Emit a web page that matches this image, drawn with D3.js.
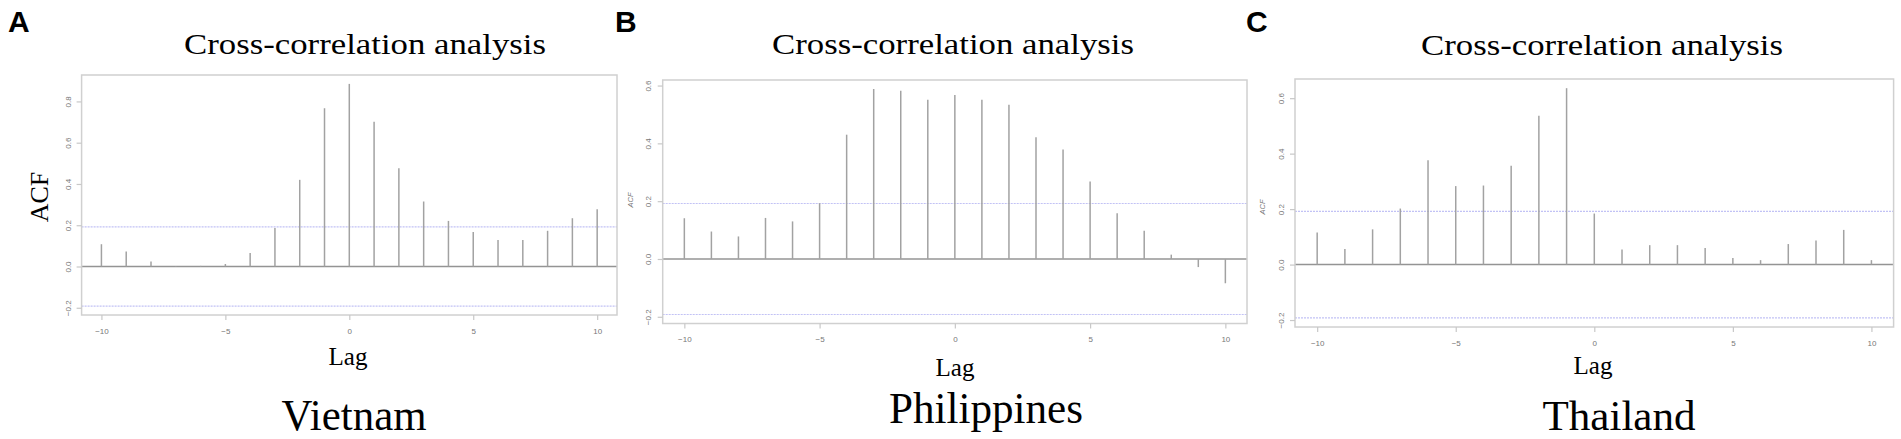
<!DOCTYPE html>
<html>
<head>
<meta charset="utf-8">
<script src="https://cdn.jsdelivr.net/npm/d3@7"></script>
<style>
  html, body { margin: 0; padding: 0; background: #fff; }
  svg { display: block; }
</style>
</head>
<body>
<svg id="chart" width="1901" height="439"></svg>
<script>
// ---------------- data ----------------
const lags = [-10, -9, -8, -7, -6, -5, -4, -3, -2, -1, 0, 1, 2, 3, 4, 5, 6, 7, 8, 9, 10];
const vietnamACF = [0.108, 0.073, 0.024, 0.002, 0.003, 0.012, 0.065, 0.186, 0.420, 0.767, 0.885,
                    0.702, 0.476, 0.315, 0.221, 0.167, 0.129, 0.129, 0.173, 0.234, 0.278];
const philippinesACF = [0.141, 0.095, 0.078, 0.142, 0.130, 0.193, 0.430, 0.588, 0.582, 0.551, 0.567,
                        0.551, 0.534, 0.421, 0.379, 0.268, 0.158, 0.098, 0.015, -0.028, -0.084];
const thailandACF = [0.116, 0.056, 0.127, 0.202, 0.376, 0.283, 0.285, 0.356, 0.537, 0.636, 0.184,
                     0.054, 0.070, 0.070, 0.060, 0.024, 0.016, 0.074, 0.087, 0.125, 0.016];
const countries = ["Vietnam", "Philippines", "Thailand"];
const panelLetters = ["A", "B", "C"];
const xTickValues = [-10, -5, 0, 5, 10];
const yTicksVietnam = [-0.2, 0.0, 0.2, 0.4, 0.6, 0.8];
const yTicksPhilippines = [-0.2, 0.0, 0.2, 0.4, 0.6];
const yTicksThailand = [-0.2, 0.0, 0.2, 0.4, 0.6];
const ciLevel = 0.192;
const titleText = "Cross-correlation analysis";
const xLabelText = "Lag";
const yLabelText = "ACF";

// ---------------- layout (positions only) ----------------
const panels = [
  { series: vietnamACF, yTicks: yTicksVietnam,
    box: [81.6, 617, 75, 315], letterX: 8,
    titleX: 365, titleY: 54, lagX: 348, lagY: 365, nameX: 354, nameY: 430, nameSize: 44, nameW: 145,
    yTickLabelX: 68, xTickLabelDY: 16, bigACF: true, acfX: 48, acfY: 197 },
  { series: philippinesACF, yTicks: yTicksPhilippines,
    box: [662.7, 1247, 80, 323.5], letterX: 615,
    titleX: 953, titleY: 53.5, lagX: 955, lagY: 375.5, nameX: 986, nameY: 422.7, nameSize: 44, nameW: 194,
    yTickLabelX: 648.3, xTickLabelDY: 15.5, bigACF: false, acfX: 630, acfY: 200 },
  { series: thailandACF, yTicks: yTicksThailand,
    box: [1295, 1893.6, 79, 327], letterX: 1246,
    titleX: 1602, titleY: 54.5, lagX: 1593, lagY: 374, nameX: 1619, nameY: 430, nameSize: 42, nameW: 153,
    yTickLabelX: 1281.7, xTickLabelDY: 15.7, bigACF: false, acfX: 1262, acfY: 207 }
];

const svg = d3.select("#chart");
svg.append("rect").attr("width", 1901).attr("height", 439).attr("fill", "#fff");

const serif = "'Liberation Serif', 'Times New Roman', serif";
const sans = "'Liberation Sans', Arial, sans-serif";

panels.forEach((p, i) => {
  const [x0, x1, y0, y1] = p.box;
  const g = svg.append("g");

  // R-style axis ranges: pad 4% beyond data / confidence limits
  const xr = d3.extent(lags);
  const xpad = (xr[1] - xr[0]) * 0.04;
  const x = d3.scaleLinear().domain([xr[0] - xpad, xr[1] + xpad]).range([x0, x1]);
  const lo = Math.min(-ciLevel, d3.min(p.series));
  const hi = Math.max(ciLevel, d3.max(p.series));
  const ypad = (hi - lo) * 0.04;
  const y = d3.scaleLinear().domain([lo - ypad, hi + ypad]).range([y1, y0]);

  // panel letter
  svg.append("text")
    .attr("x", p.letterX).attr("y", 32)
    .attr("font-family", sans).attr("font-weight", "bold").attr("font-size", 30)
    .attr("fill", "#000").text(panelLetters[i]);

  // title
  svg.append("text")
    .attr("x", p.titleX).attr("y", p.titleY)
    .attr("text-anchor", "middle")
    .attr("font-family", serif).attr("font-size", 29)
    .attr("textLength", 362).attr("lengthAdjust", "spacingAndGlyphs")
    .attr("fill", "#000").text(titleText);

  // CI lines
  [ciLevel, -ciLevel].forEach(c => {
    g.append("line")
      .attr("x1", x0).attr("x2", x1)
      .attr("y1", y(c)).attr("y2", y(c))
      .attr("stroke", "#a9a9f2").attr("stroke-width", 1.2)
      .attr("stroke-dasharray", "2,1").attr("opacity", 0.7);
  });

  // zero line
  g.append("line")
    .attr("x1", x0).attr("x2", x1)
    .attr("y1", y(0)).attr("y2", y(0))
    .attr("stroke", "#949494").attr("stroke-width", 1.6);

  // bars (spikes)
  g.selectAll("line.spike").data(lags.map((l, k) => ({ lag: l, v: p.series[k] })))
    .enter().append("line").attr("class", "spike")
    .attr("x1", d => x(d.lag)).attr("x2", d => x(d.lag))
    .attr("y1", y(0)).attr("y2", d => y(d.v))
    .attr("stroke", "#a2a2a2").attr("stroke-width", 1.5);

  // box
  g.append("rect")
    .attr("x", x0).attr("y", y0).attr("width", x1 - x0).attr("height", y1 - y0)
    .attr("fill", "none").attr("stroke", "#d0d0d0").attr("stroke-width", 1.5);

  // x axis
  const xAxis = d3.axisBottom(x).tickValues(xTickValues).tickSize(5).tickPadding(5)
    .tickFormat(d3.format("d"));
  const gx = svg.append("g").attr("transform", `translate(0,${y1})`).call(xAxis);
  gx.select(".domain").remove();
  gx.selectAll(".tick line").attr("stroke", "#c8c8c8").attr("stroke-width", 1.2);
  gx.selectAll(".tick text")
    .attr("y", p.xTickLabelDY).attr("dy", "0.35em")
    .attr("font-family", sans).attr("font-size", 8).attr("fill", "#777");

  // y axis
  const yAxis = d3.axisLeft(y).tickValues(p.yTicks).tickSize(5).tickFormat(d3.format(".1f"));
  const gy = svg.append("g").attr("transform", `translate(${x0},0)`).call(yAxis);
  gy.select(".domain").remove();
  gy.selectAll(".tick line").attr("stroke", "#c8c8c8").attr("stroke-width", 1.2);
  gy.selectAll(".tick text")
    .attr("x", null).attr("dy", null)
    .attr("transform", `translate(${p.yTickLabelX - x0},0) rotate(-90)`)
    .attr("text-anchor", "middle").attr("dominant-baseline", "central")
    .attr("font-family", sans).attr("font-size", 8).attr("fill", "#777");

  // y label
  if (p.bigACF) {
    svg.append("text")
      .attr("transform", `translate(${p.acfX},${p.acfY}) rotate(-90)`)
      .attr("text-anchor", "middle")
      .attr("font-family", serif).attr("font-size", 26).attr("fill", "#000")
      .text(yLabelText);
  } else {
    svg.append("text")
      .attr("transform", `translate(${p.acfX},${p.acfY}) rotate(-90)`)
      .attr("text-anchor", "middle").attr("dominant-baseline", "central")
      .attr("font-family", sans).attr("font-style", "italic").attr("font-size", 7.5).attr("fill", "#777")
      .text(yLabelText);
  }

  // x label
  svg.append("text")
    .attr("x", p.lagX).attr("y", p.lagY)
    .attr("text-anchor", "middle")
    .attr("font-family", serif).attr("font-size", 25)
    .attr("textLength", 39).attr("lengthAdjust", "spacingAndGlyphs")
    .attr("fill", "#000").text(xLabelText);

  // country name
  svg.append("text")
    .attr("x", p.nameX).attr("y", p.nameY)
    .attr("text-anchor", "middle")
    .attr("font-family", serif).attr("font-size", p.nameSize)
    .attr("textLength", p.nameW).attr("lengthAdjust", "spacingAndGlyphs")
    .attr("fill", "#000").text(countries[i]);
});
</script>
</body>
</html>
